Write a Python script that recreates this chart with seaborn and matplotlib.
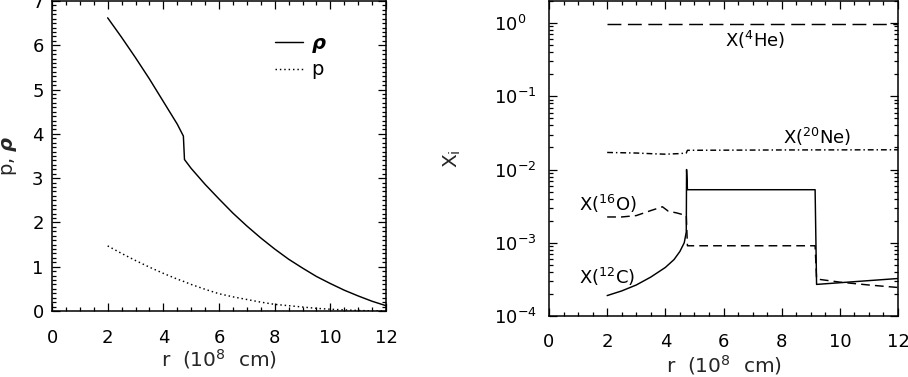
import numpy as np
import pandas as pd
import matplotlib
matplotlib.use("Agg")
import matplotlib.pyplot as plt
import seaborn as sns
from matplotlib.ticker import MultipleLocator, LogLocator, NullFormatter

# ---------------- data ----------------
r_rho = [2.0, 2.5, 3.0, 3.5, 4.0, 4.5, 4.72, 4.76, 5.0, 5.5, 6.0, 6.5, 7.0, 7.5,
         8.0, 8.5, 9.0, 9.5, 10.0, 10.5, 11.0, 11.5, 12.0]
rho = [6.62, 6.18, 5.72, 5.24, 4.73, 4.22, 3.95, 3.42, 3.22, 2.86, 2.53, 2.21, 1.92,
       1.65, 1.40, 1.17, 0.97, 0.78, 0.62, 0.47, 0.34, 0.22, 0.12]
pres = [1.47, 1.30, 1.14, 0.99, 0.85, 0.72, 0.67, 0.66, 0.60, 0.49, 0.39, 0.32, 0.26,
        0.20, 0.15, 0.12, 0.09, 0.06, 0.04, 0.025, 0.012, 0.004, 0.0]

r_he = [2.0, 4.7, 4.76, 12.0]
x_he = [0.97, 0.97, 0.97, 0.97]

r_ne = [2.0, 3.0, 3.6, 4.0, 4.5, 4.72, 4.76, 8.0, 12.0]
x_ne = [0.0171, 0.0168, 0.0164, 0.0162, 0.0165, 0.0168, 0.0183, 0.0185, 0.0186]

r_o = [2.0, 2.5, 3.0, 3.5, 3.9, 4.1, 4.4, 4.72, 4.76, 9.15, 9.2, 10.0, 11.0, 12.0]
x_o = [2.25e-3, 2.25e-3, 2.35e-3, 2.75e-3, 3.1e-3, 2.7e-3, 2.55e-3, 2.35e-3,
       9.1e-4, 9.1e-4, 3.2e-4, 2.9e-4, 2.65e-4, 2.45e-4]

r_c = [2.0, 2.5, 3.0, 3.5, 4.0, 4.3, 4.5, 4.65, 4.72, 4.73, 4.76, 9.15, 9.2, 12.0]
x_c = [1.9e-4, 2.2e-4, 2.65e-4, 3.4e-4, 4.6e-4, 5.9e-4, 7.6e-4, 1.0e-3, 1.4e-3,
       1.0e-2, 5.3e-3, 5.3e-3, 2.7e-4, 3.25e-4]

xlabel_txt = "r  (10$^{8}$  cm)"

# ---------------- style ----------------
sns.set_theme(style="ticks")
plt.rcParams["font.family"] = ["DejaVu Sans"]
plt.rcParams.update({
    "mathtext.fontset": "custom",
    "mathtext.rm": "DejaVu Sans",
    "mathtext.it": "DejaVu Sans:italic",
    "mathtext.bf": "DejaVu Sans:bold",
    "mathtext.bfit": "DejaVu Sans:bold:italic",
    "mathtext.sf": "DejaVu Sans",
    "mathtext.default": "regular",
    "axes.linewidth": 1.1,
    "axes.edgecolor": "black",
    "xtick.color": "black",
    "ytick.color": "black",
    "text.color": "black",
})

fig = plt.figure(figsize=(9.08, 3.77), dpi=100)
W, H = 908, 377


def px_axes(l, t, r, b):
    return fig.add_axes([l / W, 1 - b / H, (r - l) / W, (b - t) / H])


axL = px_axes(52, 1, 386, 311)
axR = px_axes(549, 1, 898, 316)

lw = 1.05
# left panel
dfL = pd.DataFrame({"r": r_rho, "rho": rho, "p": pres})
sns.lineplot(data=dfL, x="r", y="rho", ax=axL, color="black", lw=lw,
             estimator=None, sort=False, label=r"$\mathbfit{\rho}$")
sns.lineplot(data=dfL, x="r", y="p", ax=axL, color="black", lw=lw,
             estimator=None, sort=False, linestyle=(0, (1, 2)), label="p")

# right panel
sns.lineplot(x=r_he, y=x_he, ax=axR, color="black", lw=lw, estimator=None,
             sort=False, linestyle=(0, (9.5, 4.5)))
sns.lineplot(x=r_ne, y=x_ne, ax=axR, color="black", lw=lw, estimator=None,
             sort=False, linestyle=(0, (4, 2, 1, 2)))
sns.lineplot(x=r_o, y=x_o, ax=axR, color="black", lw=lw, estimator=None,
             sort=False, linestyle=(0, (6, 3.5)))
sns.lineplot(x=r_c, y=x_c, ax=axR, color="black", lw=lw, estimator=None,
             sort=False)

# axes settings
for ax in (axL, axR):
    ax.set_xlim(0, 12)
    ax.xaxis.set_major_locator(MultipleLocator(2))
    ax.xaxis.set_minor_locator(MultipleLocator(0.5))
    ax.tick_params(which="both", direction="in", top=True, right=True,
                   labelsize=13, width=0.9)
    ax.tick_params(which="major", length=6)
    ax.tick_params(which="minor", length=3)
    ax.set_xlabel(xlabel_txt, fontsize=14.5)
    for s in ax.spines.values():
        s.set_visible(True)

axL.set_ylim(0, 7)
axL.yaxis.set_major_locator(MultipleLocator(1))
axL.yaxis.set_minor_locator(MultipleLocator(0.1))
axL.tick_params(axis="x", which="both", pad=13)
axL.tick_params(axis="y", which="both", pad=6)
axL.set_ylabel(r"p, $\mathbfit{\rho}$", fontsize=14)
axL.yaxis.set_label_coords(-0.098, 0.5)
axL.xaxis.set_label_coords(0.5, -0.117)

axR.set_yscale("log")
axR.set_ylim(1e-4, 2.0)
axR.yaxis.set_major_locator(LogLocator(base=10, numticks=10))
axR.yaxis.set_minor_locator(LogLocator(base=10, subs=np.arange(2, 10), numticks=10))
axR.yaxis.set_minor_formatter(NullFormatter())
axR.tick_params(axis="x", which="both", pad=12)
axR.tick_params(axis="y", which="both", pad=39.5)
axR.set_ylabel("X$_{i}$", fontsize=14.5)
axR.yaxis.set_label_coords(-0.246, 0.5)
axR.xaxis.set_label_coords(0.5, -0.117)
for lab in axR.get_yticklabels():
    lab.set_horizontalalignment("left")

# legend
leg = axL.legend(frameon=False, loc="upper left", bbox_to_anchor=(0.668, 0.895),
                 borderpad=0, borderaxespad=0, handlelength=1.55,
                 handletextpad=0.45, labelspacing=0.3, fontsize=13)
for t in leg.get_texts():
    t.set_fontsize(14)

# annotations
fs = 13
axR.text(7.08, 0.58, "X($^{4}$He)", ha="center", va="center", fontsize=fs)
axR.text(9.2, 0.0276, "X($^{20}$Ne)", ha="center", va="center", fontsize=fs)
axR.text(1.03, 0.0034, "X($^{16}$O)", ha="left", va="center", fontsize=fs)
axR.text(1.03, 3.4e-4, "X($^{12}$C)", ha="left", va="center", fontsize=fs)

fig.savefig("out.png", dpi=100)
